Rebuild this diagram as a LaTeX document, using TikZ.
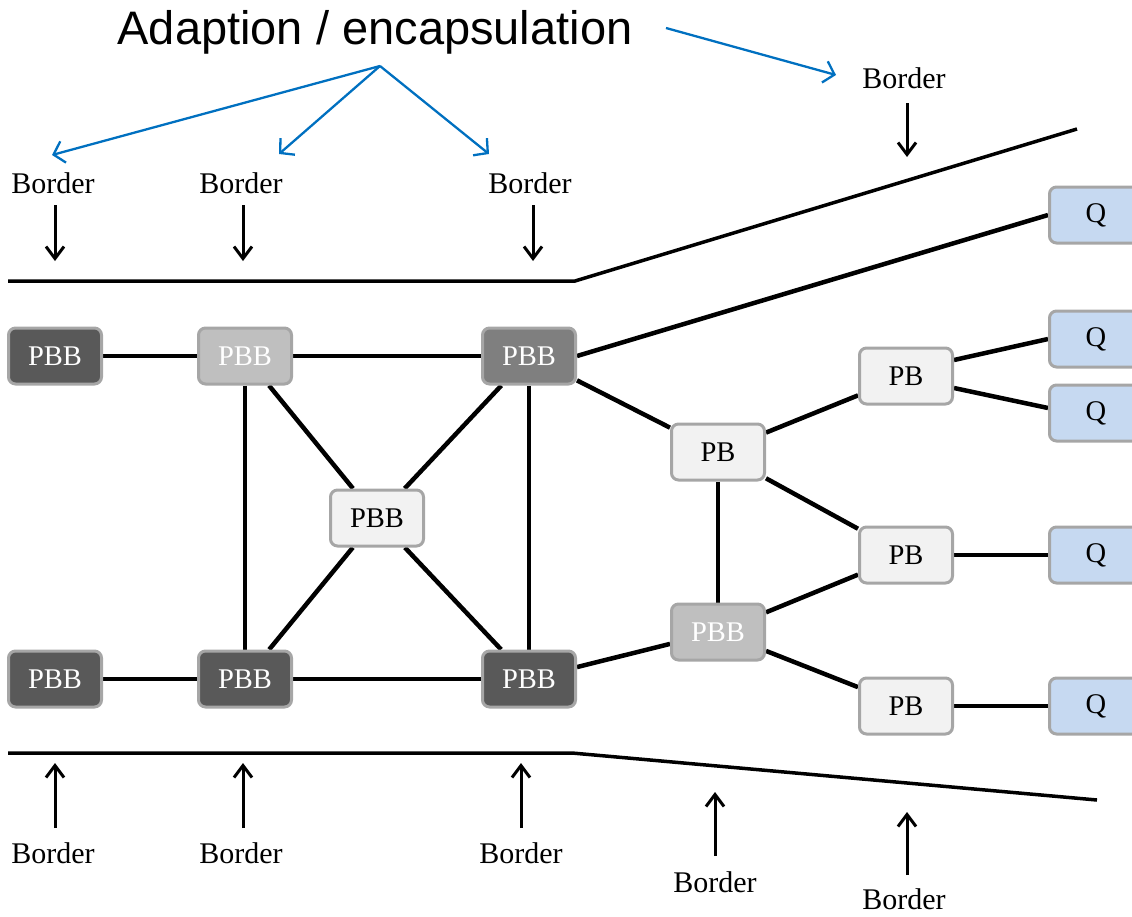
\documentclass[tikz,border=0pt]{standalone}
\usepackage{fontspec}
\setmainfont{Liberation Serif}
\newfontfamily\titlefont{Liberation Sans}
\usetikzlibrary{arrows.meta,backgrounds}
\definecolor{dk}{HTML}{595959}
\definecolor{md}{HTML}{7F7F7F}
\definecolor{lt}{HTML}{BFBFBF}
\definecolor{pl}{HTML}{F2F2F2}
\definecolor{qb}{HTML}{C6D9F1}
\definecolor{edgegray}{HTML}{A6A6A6}
\definecolor{arrowblue}{HTML}{0070C0}
\begin{document}
\begin{tikzpicture}[x=1pt,y=-1pt,
  box/.style={draw=edgegray, line width=3pt, rounded corners=7pt,
    minimum width=93pt, minimum height=56pt, inner sep=0pt,
    font=\fontsize{28.5}{30}\selectfont},
  darkbox/.style={box, fill=dk, text=white},
  midbox/.style={box, fill=md, text=white},
  litebox/.style={box, fill=lt, text=white},
  palebox/.style={box, fill=pl, text=black},
  qbox/.style={box, fill=qb, text=black},
  link/.style={line width=4.5pt},
  borderline/.style={line width=3.5pt},
  lbl/.style={inner sep=0pt, font=\fontsize{30}{32}\selectfont},
  barr/.style={line width=3pt, -{Straight Barb[length=12pt,width=18pt,line width=3pt]}},
  bluearr/.style={draw=arrowblue, line width=2.3pt, -{Straight Barb[length=10pt,width=22pt,line width=2.3pt]}}
]
\useasboundingbox (0,0) rectangle (1132,916);

% title
\node[inner sep=0pt, font=\titlefont\fontsize{47}{50}\selectfont] (title) at (375,32) {Adaption / encapsulation};
\coordinate (bo) at (380,66);
\coordinate (bs) at (666,28);

% nodes
\node[darkbox] (a1) at (55,356) {PBB};
\node[litebox] (a2) at (245,356) {PBB};
\node[midbox]  (a3) at (529,356) {PBB};
\node[palebox] (c)  at (377,518) {PBB};
\node[darkbox] (b1) at (55,679) {PBB};
\node[darkbox] (b2) at (245,679) {PBB};
\node[darkbox] (b3) at (529,679) {PBB};
\node[palebox] (p1) at (718,452) {PB};
\node[litebox] (p2) at (718,632) {PBB};
\node[palebox] (r1) at (906,376) {PB};
\node[palebox] (r2) at (906,555) {PB};
\node[palebox] (r3) at (906,706) {PB};
\node[qbox] (q1) at (1096,215) {Q};
\node[qbox] (q2) at (1096,339) {Q};
\node[qbox] (q3) at (1096,413) {Q};
\node[qbox] (q4) at (1096,555) {Q};
\node[qbox] (q5) at (1096,706) {Q};

\begin{scope}[on background layer]
\draw[link] (a1) -- (a2);
\draw[link] (a2) -- (a3);
\draw[link] (a2) -- (b2);
\draw[link] (a2) -- (c);
\draw[link] (a3) -- (c);
\draw[link] (a3) -- (b3);
\draw[link] (c) -- (b2);
\draw[link] (c) -- (b3);
\draw[link] (b1) -- (b2);
\draw[link] (b2) -- (b3);
\draw[link] (b3) -- (p2);
\draw[link] (a3.east) -- (q1.west);
\draw[link] (a3) -- (p1);
\draw[link] (p1) -- (r1);
\draw[link] (p1) -- (r2);
\draw[link] (p1) -- (p2);
\draw[link] (p2) -- (r2);
\draw[link] (p2) -- (r3);
\draw[link] ([yshift=16pt]r1.east) -- (q2.west);
\draw[link] ([yshift=-12pt]r1.east) -- ([yshift=5pt]q3.west);
\draw[link] (r2) -- (q4);
\draw[link] (r3) -- (q5);
\end{scope}

% border lines
\coordinate (t0) at (8,281);
\coordinate (t1) at (575,281);
\coordinate (t2) at (1077,129);
\coordinate (u0) at (8,753);
\coordinate (u1) at (572,753);
\coordinate (u2) at (1097,800);
\draw[borderline] (t0) -- (t1) -- (t2);
\draw[borderline] (u0) -- (u1) -- (u2);

% top labels
\node[lbl] (L1) at (53,183) {Border};
\node[lbl] (L2) at (241,183) {Border};
\node[lbl] (L3) at (530,183) {Border};
\node[lbl] (L4) at (904,78) {Border};
\coordinate (e1) at (55,261);
\coordinate (e2) at (243,261);
\coordinate (e3) at (533,261);
\coordinate (e4) at (907,157);
\draw[barr] (55,205) -- (e1);
\draw[barr] (243,205) -- (e2);
\draw[barr] (533,205) -- (e3);
\draw[barr] (907,103) -- (e4);

% bottom labels
\node[lbl] (M1) at (53,853) {Border};
\node[lbl] (M2) at (241,853) {Border};
\node[lbl] (M3) at (521,853) {Border};
\node[lbl] (M4) at (715,882) {Border};
\node[lbl] (M5) at (904,899) {Border};
\coordinate (f1) at (55,763);
\coordinate (f2) at (243,763);
\coordinate (f3) at (521,763);
\coordinate (f4) at (715,792);
\coordinate (f5) at (907,812);
\draw[barr] (55,828) -- (f1);
\draw[barr] (243,828) -- (f2);
\draw[barr] (521,828) -- (f3);
\draw[barr] (715,856) -- (f4);
\draw[barr] (907,875) -- (f5);

% blue arrows
\coordinate (g1) at (52,155);
\coordinate (g2) at (279,154);
\coordinate (g3) at (489,154);
\coordinate (g4) at (836,75);
\draw[bluearr] (bo) -- (g1);
\draw[bluearr] (bo) -- (g2);
\draw[bluearr] (bo) -- (g3);
\draw[bluearr] (bs) -- (g4);
\end{tikzpicture}
\end{document}
